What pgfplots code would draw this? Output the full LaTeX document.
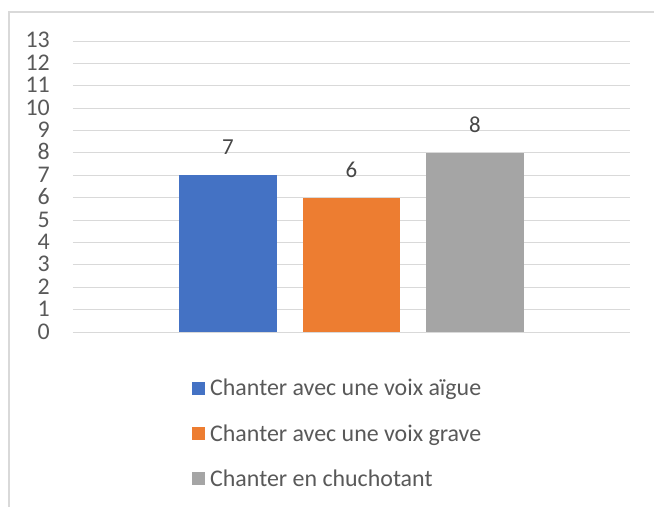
\documentclass[border=0pt]{standalone}
\usepackage{pgfplots}
\pgfplotsset{compat=1.18}
\usepackage{fontspec}
\setmainfont{Carlito}
\definecolor{cblue}{HTML}{4472C4}
\definecolor{corange}{HTML}{ED7D31}
\definecolor{cgray}{HTML}{A5A5A5}
\definecolor{gridc}{HTML}{D9D9D9}
\definecolor{txt}{HTML}{595959}
\begin{document}
\begin{tikzpicture}
\useasboundingbox (-73bp,-175bp) rectangle (581bp,332bp);
\draw[gridc, line width=1.2bp] (-64bp,-180bp) -- (-64bp,320bp) -- (590bp,320bp);
\begin{axis}[
  scale only axis,
  width=557bp, height=291bp,
  anchor=south west, at={(0,0)},
  ybar, bar width=0.79, bar shift=0pt,
  xmin=-1.255, xmax=3.255,
  ymin=0, ymax=13,
  ytick={0,1,...,13},
  xtick=\empty,
  axis line style={draw=none},
  major tick length=0pt,
  ymajorgrids,
  grid style={gridc, line width=1bp},
  every tick label/.style={font=\fontsize{24}{24}\selectfont, text=txt,
    inner sep=0pt, text height=14bp, text depth=0pt},
  yticklabel style={xshift=-23bp},
  /pgf/number format/assume math mode=true,
  nodes near coords,
  nodes near coords style={font=\fontsize{23}{24}\selectfont, text=txt!80!black, yshift=17bp},
  legend style={at={(0.2136,-0.155)}, anchor=north west, draw=none,
    font=\fontsize{24}{26}\selectfont, text=txt, inner sep=0pt,
    row sep=23bp, column sep=3bp,
    nodes={inner sep=2bp}},
  legend cell align=left,
  legend image code/.code={\fill[#1] (0bp,-6.5bp) rectangle (13bp,6.5bp);},
]
\addplot[fill=cblue, draw=none] coordinates {(0,7)};
\addplot[fill=corange, draw=none] coordinates {(1,6)};
\addplot[fill=cgray, draw=none] coordinates {(2,8)};
\legend{Chanter avec une voix aïgue, Chanter avec une voix grave, Chanter en chuchotant}
\end{axis}
\end{tikzpicture}
\end{document}
